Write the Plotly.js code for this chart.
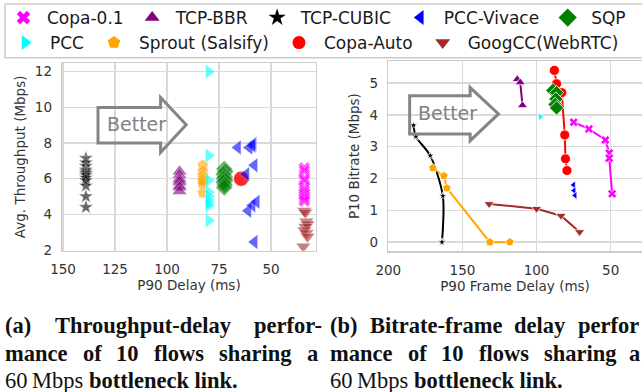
<!DOCTYPE html>
<html>
<head>
<meta charset="utf-8">
<script src="https://cdn.plot.ly/plotly-3.0.1.min.js"></script>
<style>html,body{margin:0;padding:0;background:#fff;}#chart{width:642px;height:392px;}</style>
</head>
<body>
<div id="chart"></div>
<script>
// ---------- Panel (a): Avg. throughput vs P90 delay ----------
const cubicA_delay  = [139,139,139,139,139,139,139,139,139,139,139,139];
const cubicA_tput   = [7.15,6.9,6.7,6.5,6.4,6.3,6.2,6.05,5.9,5.6,5.0,4.4];
const bbrA_delay    = [94,94,94,94,94,94,94,94];
const bbrA_tput     = [6.4,6.2,6.0,5.9,5.8,5.6,5.5,5.3];
const sproutA_delay = [82.8,82.8,82.8,82.8,82.8,82.8,82.8,82.8];
const sproutA_tput  = [6.75,6.4,6.2,6.05,5.95,5.85,5.7,5.2];
const pccA_delay    = [80,80,80,80,80,80,80,80,80];
const pccA_tput     = [12.0,7.3,5.9,5.25,5.0,4.8,4.65,4.5,3.65];
const sqpA_delay    = [72.5,72,72.8,72.2,72.6,72,72.8,72.3,72.5];
const sqpA_tput     = [6.55,6.4,6.25,6.1,6.0,5.9,5.8,5.65,5.5];
const copaAutoA_delay = [64.4,64.4];
const copaAutoA_tput  = [6.0,6.0];
const vivaceA_delay = [66,60.5,58.5,59,58,62,61,59,57,58];
const vivaceA_tput  = [7.75,7.75,7.95,7.85,6.75,6.25,4.2,4.5,4.7,2.45];
const copa01A_delay = [34,34,34,34,34,34,34,34,34,34];
const copa01A_tput  = [6.6,6.45,6.0,5.9,5.5,5.35,5.2,5.05,4.9,4.75];
const googA_delay   = [34,33.5,33,32.5,33.5,34,33,32.5,34.5];
const googA_tput    = [4.2,4.1,3.6,3.45,3.3,3.1,2.95,2.75,2.2];

// ---------- Panel (b): P10 bitrate vs P90 frame delay ----------
const cubicB_delay  = [183,181.4,171.7,163.2,163.8];
const cubicB_rate   = [3.67,3.32,2.72,1.45,0.0];
const sproutB_delay = [170,162.5,160.5,131.5,118];
const sproutB_rate  = [2.33,2.08,1.7,0.0,0.0];
const googB_delay   = [132,100,83.5,71];
const googB_rate    = [1.2,1.05,0.83,0.32];
const bbrB_delay    = [113,111,109.5];
const bbrB_rate     = [5.12,5.02,4.3];
const pccB_delay    = [97.6];
const pccB_rate     = [3.94];
const copaAutoB_delay = [88,86.5,83,81,80.5,79.5];
const copaAutoB_rate  = [5.4,4.98,4.7,3.37,2.62,2.25];
const sqpB_delay    = [89,86.5,87,87.5,86.5];
const sqpB_rate     = [4.77,4.7,4.5,4.33,4.22];
const copa01B_delay = [75,64.7,53.6,51,51,49];
const copa01B_rate  = [3.77,3.56,3.21,2.8,2.64,1.52];
const vivaceB_delay = [75,74.7,74];
const vivaceB_rate  = [1.8,1.62,1.47];

// ---------- Legend / ticks / captions ----------
const legendRow1 = ['Copa-0.1','TCP-BBR','TCP-CUBIC','PCC-Vivace','SQP'];
const legendRow2 = ['PCC','Sprout (Salsify)','Copa-Auto','GoogCC(WebRTC)'];
const ticksAx = [150,125,100,75,50];
const ticksAy = [2,4,6,8,10,12];
const ticksBx = [200,150,100,50];
const ticksBy = [0,1,2,3,4,5];

const style = {
  'Copa-0.1':        {sym:'x',              color:'#ff00ff'},
  'TCP-BBR':         {sym:'triangle-up',    color:'#800080'},
  'TCP-CUBIC':       {sym:'star',           color:'#000000'},
  'PCC-Vivace':      {sym:'triangle-left',  color:'#0000ff'},
  'SQP':             {sym:'diamond',        color:'#008000'},
  'PCC':             {sym:'triangle-right', color:'#00ffff'},
  'Sprout (Salsify)':{sym:'pentagon',       color:'#ffa500'},
  'Copa-Auto':       {sym:'circle',         color:'#ff0000'},
  'GoogCC(WebRTC)':  {sym:'triangle-down',  color:'#a52a2a'}
};
const legSize = {'Copa-0.1':12,'TCP-BBR':13,'TCP-CUBIC':13,'PCC-Vivace':13,'SQP':14,'PCC':13,'Sprout (Salsify)':13,'Copa-Auto':13,'GoogCC(WebRTC)':13};

const traces = [];
function scatA(name, xs, ys, size){
  traces.push({type:'scatter', mode:'markers', x:xs, y:ys, xaxis:'x', yaxis:'y', showlegend:false,
    marker:{symbol:style[name].sym, color:style[name].color, size:size, opacity:0.6, line:{width:0.5, color:'#ffffff'}}});
}
function lineB(name, xs, ys, size, shape){
  traces.push({type:'scatter', mode:'lines+markers', x:xs, y:ys, xaxis:'x2', yaxis:'y2', showlegend:false,
    line:{color:style[name].color, width:2, shape:shape||'linear', smoothing:0.8},
    marker:{symbol:style[name].sym, color:style[name].color, size:size, line:{width:0.8, color:'#ffffff'}}});
}
scatA('TCP-CUBIC', cubicA_delay, cubicA_tput, 11);
scatA('TCP-BBR', bbrA_delay, bbrA_tput, 13);
scatA('Sprout (Salsify)', sproutA_delay, sproutA_tput, 12);
scatA('PCC', pccA_delay, pccA_tput, 13);
scatA('SQP', sqpA_delay, sqpA_tput, 13);
scatA('Copa-Auto', copaAutoA_delay, copaAutoA_tput, 15);
scatA('PCC-Vivace', vivaceA_delay, vivaceA_tput, 13);
scatA('Copa-0.1', copa01A_delay, copa01A_tput, 11);
scatA('GoogCC(WebRTC)', googA_delay, googA_tput, 13);

lineB('TCP-CUBIC', cubicB_delay, cubicB_rate, 6, 'spline');
lineB('Sprout (Salsify)', sproutB_delay, sproutB_rate, 9);
lineB('GoogCC(WebRTC)', googB_delay, googB_rate, 9);
lineB('TCP-BBR', bbrB_delay, bbrB_rate, 9);
lineB('PCC', pccB_delay, pccB_rate, 7);
lineB('Copa-Auto', copaAutoB_delay, copaAutoB_rate, 10);
lineB('SQP', sqpB_delay, sqpB_rate, 11);
lineB('Copa-0.1', copa01B_delay, copa01B_rate, 8);
lineB('PCC-Vivace', vivaceB_delay, vivaceB_rate, 7);

// legend entries (no data points, legend only)
legendRow1.forEach(n => traces.push({type:'scatter', mode:'markers', x:[null], y:[null], xaxis:'x', yaxis:'y', name:n, legend:'legend',
  marker:{symbol:style[n].sym, color:style[n].color, size:legSize[n]}}));
legendRow2.forEach(n => traces.push({type:'scatter', mode:'markers', x:[null], y:[null], xaxis:'x', yaxis:'y', name:n, legend:'legend2',
  marker:{symbol:style[n].sym, color:style[n].color, size:legSize[n]}}));

const W = 642, H = 392;
const px = v => v / W, py = v => 1 - v / H;

const tickFont = {family:'DejaVu Sans', size:13.5, color:'#333333'};
function axisBase(extra){
  return Object.assign({showgrid:true, gridcolor:'#d9d9d9', gridwidth:1.3, showline:true, mirror:true,
    linecolor:'#cccccc', linewidth:1.3, zeroline:false, ticks:'', ticklabelstandoff:6, tickfont:tickFont, fixedrange:true}, extra);
}

const annFont = {family:'Liberation Serif, Times New Roman, serif', size:22.5, color:'#111111'};
const annotations = [];
function cap(txt, xLeft, yMid){
  annotations.push({xref:'paper', yref:'paper', x:px(xLeft-2), y:py(yMid), xanchor:'left', yanchor:'middle',
    text:txt, showarrow:false, font:annFont});
}
// caption (a)
cap('<b>(a)</b>', 5, 325); cap('<b>Throughput-delay</b>', 55, 325); cap('<b>perfor-</b>', 253.5, 325);
[['mance',5],['of',82.6],['10',116.4],['flows',154],['sharing',219],['a',306.7]].forEach(w => cap('<b>'+w[0]+'</b>', w[1], 353));
cap('60\u2009Mbps <b>bottleneck link.</b>', 5, 380);
// caption (b)
cap('<b>(b)</b>', 330, 325); cap('<b>Bitrate-frame</b>', 370, 325); cap('<b>delay</b>', 514, 325); cap('<b>perfor</b>', 578, 325);
[['mance',330],['of',407.6],['10',441.4],['flows',479],['sharing',544],['a',629]].forEach(w => cap('<b>'+w[0]+'</b>', w[1], 353));
cap('60\u2009Mbps <b>bottleneck link.</b>', 330, 380);
// "Better" labels
annotations.push({xref:'x', yref:'y', x:114.8, y:9.05, text:'Better', showarrow:false, font:{family:'DejaVu Sans', size:19, color:'#808080'}});
annotations.push({xref:'x2', yref:'y2', x:160.1, y:4.06, text:'Better', showarrow:false, font:{family:'DejaVu Sans', size:19, color:'#808080'}});

const shapes = [
  {type:'rect', xref:'paper', yref:'paper', x0:px(5), x1:1.02, y0:py(57), y1:py(3), line:{color:'#cccccc', width:1.5}, fillcolor:'rgba(0,0,0,0)'},
  {type:'path', xref:'x', yref:'y', path:'M133.2,8 L133.2,10 L103.1,10 L103.1,10.55 L90.8,9.03 L103.1,7.48 L103.1,8 Z', line:{color:'#858585', width:3}, fillcolor:'rgba(0,0,0,0)'},
  {type:'path', xref:'x2', yref:'y2', path:'M185.6,3.4 L185.6,4.6 L144.8,4.6 L144.8,4.86 L125.7,4.03 L144.8,3.19 L144.8,3.4 Z', line:{color:'#858585', width:3}, fillcolor:'rgba(0,0,0,0)'}
];

const legFont = {family:'DejaVu Sans', size:17, color:'#1a1a1a'};
const layout = {
  width:W, height:H, margin:{l:0, r:0, t:0, b:0}, paper_bgcolor:'#ffffff', plot_bgcolor:'#ffffff',
  font:{family:'DejaVu Sans', color:'#262626'},
  showlegend:true,
  legend:{orientation:'h', x:0, xanchor:'left', y:py(17), yanchor:'middle', bgcolor:'rgba(0,0,0,0)', borderwidth:0, font:legFont, itemwidth:37},
  legend2:{orientation:'h', x:0, xanchor:'left', y:py(43), yanchor:'middle', bgcolor:'rgba(0,0,0,0)', borderwidth:0, font:legFont, itemwidth:40},
  xaxis: axisBase({domain:[px(62), px(316)], range:[150.5, 28.4], tickvals:ticksAx, anchor:'y',
    title:{text:'P90 Delay (ms)', font:{size:13.5, color:'#333333'}, standoff:2}}),
  yaxis: axisBase({domain:[py(250.5), py(62)], range:[1.95, 12.5], tickvals:ticksAy, anchor:'x',
    title:{text:'Avg. Throughput (Mbps)', font:{size:13.5, color:'#333333'}, standoff:6}}),
  xaxis2: axisBase({domain:[px(388), 1], range:[200.2, 28.9], tickvals:ticksBx, anchor:'y2',
    title:{text:'P90 Frame Delay (ms)', font:{size:13.5, color:'#333333'}, standoff:2}}),
  yaxis2: axisBase({domain:[py(251), py(60)], range:[-0.29, 5.7], tickvals:ticksBy, anchor:'x2',
    title:{text:'P10 Bitrate (Mbps)', font:{size:13.5, color:'#333333'}, standoff:6}}),
  shapes: shapes,
  annotations: annotations
};
Plotly.newPlot('chart', traces, layout, {staticPlot:true, displayModeBar:false});
</script>
</body>
</html>
